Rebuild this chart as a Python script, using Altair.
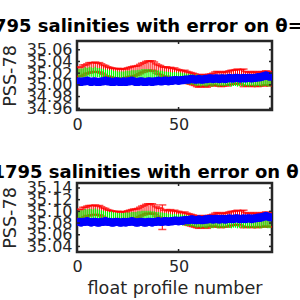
import altair as alt
import pandas as pd

profiles = list(range(1, 96))

# ---- panel 1 (upper theta level) ----
red1 = [35.022,35.023,35.025,35.026,35.028,35.029,35.030,35.030,35.031,35.029,
        35.030,35.028,35.026,35.024,35.023,35.022,35.021,35.020,35.020,35.019,
        35.019,35.018,35.020,35.019,35.021,35.022,35.023,35.023,35.024,35.025,
        35.027,35.029,35.030,35.032,35.033,35.032,35.033,35.031,35.028,35.026,
        35.025,35.023,35.022,35.023,35.021,35.020,35.018,35.019,35.017,35.016,
        35.015,35.014,35.015,35.013,35.012,35.011,35.010,35.009,35.007,35.006,
        35.007,35.008,35.007,35.006,35.008,35.009,35.010,35.010,35.011,35.010,
        35.009,35.010,35.011,35.010,35.012,35.013,35.013,35.014,35.015,35.014,
        35.013,35.012,35.011,35.010,35.010,35.009,35.011,35.010,35.009,35.010,
        35.011,35.010,35.012,35.011,35.010]
red_err1 = [0.008,0.008,0.009,0.008,0.008,0.009,0.008,0.008,0.008,0.008,
            0.008,0.008,0.008,0.009,0.008,0.008,0.008,0.008,0.008,0.009,
            0.008,0.009,0.008,0.008,0.008,0.008,0.008,0.009,0.008,0.008,
            0.008,0.008,0.008,0.008,0.008,0.009,0.008,0.008,0.008,0.008,
            0.008,0.008,0.008,0.008,0.008,0.010,0.010,0.010,0.010,0.010,
            0.010,0.010,0.010,0.010,0.010,0.010,0.010,0.010,0.010,0.010,
            0.010,0.010,0.010,0.010,0.010,0.010,0.010,0.012,0.012,0.012,
            0.012,0.012,0.012,0.012,0.012,0.012,0.012,0.012,0.012,0.012,
            0.013,0.015,0.012,0.012,0.012,0.012,0.012,0.012,0.012,0.012,
            0.012,0.012,0.012,0.012,0.012]
green1 = [35.019,35.020,35.020,35.021,35.021,35.022,35.022,35.021,35.022,35.021,
          35.021,35.020,35.019,35.018,35.018,35.017,35.017,35.016,35.016,35.015,
          35.015,35.015,35.015,35.016,35.016,35.016,35.017,35.017,35.017,35.018,
          35.018,35.018,35.019,35.019,35.019,35.019,35.018,35.018,35.017,35.017,
          35.016,35.016,35.015,35.015,35.014,35.014,35.013,35.013,35.013,35.012,
          35.012,35.011,35.011,35.010,35.010,35.009,35.009,35.008,35.008,35.008,
          35.007,35.008,35.007,35.007,35.008,35.007,35.007,35.008,35.007,35.007,
          35.008,35.007,35.007,35.008,35.008,35.007,35.008,35.008,35.007,35.008,
          35.008,35.007,35.008,35.007,35.007,35.008,35.007,35.007,35.008,35.007,
          35.007,35.008,35.008,35.007,35.007]
green_err1 = [0.008,0.008,0.008,0.009,0.008,0.008,0.008,0.008,0.009,0.008,
              0.008,0.008,0.008,0.008,0.008,0.008,0.009,0.008,0.008,0.008,
              0.008,0.008,0.008,0.008,0.008,0.008,0.008,0.008,0.008,0.008,
              0.008,0.009,0.008,0.008,0.008,0.008,0.008,0.008,0.008,0.008,
              0.008,0.008,0.008,0.008,0.008,0.008,0.008,0.009,0.008,0.009,
              0.009,0.009,0.009,0.009,0.009,0.009,0.009,0.009,0.010,0.009,
              0.010,0.009,0.010,0.010,0.009,0.010,0.010,0.009,0.010,0.010,
              0.010,0.010,0.009,0.010,0.010,0.010,0.010,0.010,0.010,0.010,
              0.010,0.010,0.010,0.010,0.010,0.010,0.010,0.010,0.010,0.010,
              0.010,0.010,0.010,0.010,0.010]
blue1 = [35.006,35.005,35.006,35.006,35.007,35.006,35.005,35.006,35.006,35.005,
         35.005,35.006,35.006,35.007,35.006,35.006,35.005,35.005,35.006,35.006,
         35.005,35.005,35.006,35.005,35.006,35.006,35.007,35.006,35.005,35.005,
         35.006,35.006,35.005,35.005,35.006,35.006,35.005,35.006,35.006,35.007,
         35.006,35.006,35.007,35.007,35.006,35.007,35.007,35.008,35.008,35.007,
         35.008,35.008,35.009,35.009,35.009,35.010,35.010,35.009,35.009,35.010,
         35.009,35.009,35.010,35.010,35.011,35.011,35.010,35.011,35.011,35.010,
         35.011,35.011,35.010,35.011,35.012,35.011,35.011,35.012,35.012,35.011,
         35.011,35.012,35.011,35.012,35.012,35.011,35.012,35.012,35.013,35.013,
         35.014,35.015,35.016,35.015,35.014]

# ---- panel 2 (lower theta level) ----
red2 = [35.095,35.096,35.098,35.099,35.101,35.101,35.102,35.102,35.103,35.101,
        35.102,35.100,35.098,35.096,35.095,35.094,35.093,35.092,35.092,35.091,
        35.091,35.090,35.092,35.091,35.093,35.094,35.095,35.095,35.096,35.097,
        35.099,35.101,35.102,35.104,35.105,35.104,35.105,35.103,35.100,35.098,
        35.097,35.090,35.094,35.095,35.093,35.093,35.091,35.092,35.090,35.090,
        35.088,35.088,35.089,35.087,35.086,35.085,35.084,35.083,35.082,35.081,
        35.082,35.083,35.082,35.081,35.083,35.084,35.085,35.085,35.086,35.085,
        35.084,35.085,35.086,35.085,35.087,35.088,35.088,35.089,35.090,35.089,
        35.088,35.087,35.086,35.085,35.085,35.084,35.086,35.085,35.084,35.085,
        35.086,35.085,35.087,35.086,35.085]
red_err2 = [0.008,0.008,0.009,0.008,0.008,0.009,0.008,0.008,0.008,0.008,
            0.008,0.008,0.008,0.009,0.008,0.008,0.008,0.008,0.008,0.009,
            0.008,0.009,0.008,0.008,0.008,0.008,0.008,0.009,0.008,0.008,
            0.008,0.008,0.008,0.008,0.008,0.009,0.008,0.008,0.008,0.008,
            0.008,0.021,0.008,0.008,0.008,0.010,0.010,0.010,0.010,0.010,
            0.010,0.010,0.010,0.010,0.010,0.010,0.010,0.010,0.010,0.010,
            0.010,0.010,0.010,0.010,0.010,0.010,0.010,0.012,0.012,0.012,
            0.012,0.012,0.012,0.012,0.012,0.012,0.012,0.012,0.012,0.012,
            0.013,0.015,0.012,0.012,0.012,0.012,0.012,0.012,0.012,0.012,
            0.012,0.012,0.012,0.012,0.012]
green2 = [35.093,35.094,35.094,35.095,35.095,35.096,35.096,35.095,35.096,35.095,
          35.095,35.094,35.093,35.092,35.092,35.091,35.091,35.090,35.090,35.089,
          35.089,35.089,35.089,35.090,35.090,35.090,35.091,35.091,35.091,35.092,
          35.092,35.092,35.093,35.093,35.093,35.093,35.092,35.092,35.091,35.091,
          35.090,35.090,35.089,35.089,35.088,35.088,35.087,35.087,35.087,35.086,
          35.086,35.085,35.085,35.084,35.084,35.083,35.083,35.082,35.082,35.082,
          35.081,35.082,35.081,35.081,35.082,35.081,35.081,35.082,35.081,35.081,
          35.082,35.081,35.081,35.082,35.082,35.081,35.082,35.082,35.081,35.082,
          35.082,35.081,35.082,35.081,35.081,35.082,35.081,35.081,35.082,35.081,
          35.081,35.082,35.082,35.081,35.081]
green_err2 = green_err1
blue2 = [35.082,35.081,35.082,35.082,35.083,35.082,35.081,35.082,35.082,35.081,
         35.081,35.082,35.082,35.083,35.082,35.082,35.081,35.081,35.082,35.082,
         35.081,35.081,35.082,35.081,35.082,35.082,35.083,35.082,35.081,35.081,
         35.082,35.082,35.081,35.081,35.082,35.082,35.081,35.082,35.082,35.083,
         35.082,35.082,35.083,35.083,35.082,35.083,35.083,35.084,35.084,35.083,
         35.084,35.084,35.085,35.085,35.085,35.086,35.086,35.085,35.085,35.086,
         35.085,35.085,35.086,35.086,35.087,35.087,35.086,35.087,35.087,35.086,
         35.087,35.087,35.086,35.087,35.088,35.087,35.087,35.088,35.088,35.087,
         35.087,35.088,35.087,35.088,35.088,35.087,35.088,35.088,35.089,35.089,
         35.090,35.091,35.092,35.091,35.090]

x_ticks = [0, 50, 100]
y_ticks1 = [34.96, 34.98, 35.0, 35.02, 35.04, 35.06]
y_ticks2 = [35.04, 35.06, 35.08, 35.1, 35.12, 35.14]
y_dom1 = [34.957, 35.075]
y_dom2 = [35.0305, 35.1485]
x_dom = [0, 96]

title1 = "Float 1901795 salinities with error on θ=2.4536°C"
title2 = "Float 1901795 salinities with error on θ=2.214°C"

W, H = 195, 69
FG = "#262626"
FONT = "DejaVu Sans"


def panel(red, rerr, green, gerr, blue, ydom, yticks, title, title_dx, title_dy, xtitle):
    df = pd.DataFrame({"p": profiles, "r": red, "re": rerr, "g": green,
                       "ge": gerr, "b": blue})
    df["r_lo"] = df["r"] - df["re"]
    df["r_hi"] = df["r"] + df["re"]
    df["g_lo"] = df["g"] - df["ge"]
    df["g_hi"] = df["g"] + df["ge"]

    xs = alt.Scale(domain=x_dom, nice=False, zero=False)
    ys = alt.Scale(domain=ydom, nice=False, zero=False)
    xaxis = alt.Axis(values=x_ticks, grid=False, ticks=False, domain=False,
                     labelFontSize=16, labelFont=FONT, labelColor=FG,
                     labelPadding=6, labelFlush=False, labelOverlap=False,
                     titleFontSize=17.6, titleFont=FONT, titleColor=FG,
                     titleFontWeight="normal", titlePadding=5)
    yaxis = alt.Axis(values=yticks, grid=False, ticks=False, domain=False,
                     labelFontSize=16, labelFont=FONT, labelColor=FG,
                     labelPadding=5, labelFlush=False, labelOverlap=False,
                     titleFontSize=17.6, titleFont=FONT, titleColor=FG,
                     titleFontWeight="normal", titlePadding=7)

    def X(f):
        return alt.X(f, scale=xs, axis=xaxis, title=xtitle)

    def Y(f):
        return alt.Y(f, scale=ys, axis=yaxis, title="PSS-78")

    base = alt.Chart(df)
    red_rule = base.mark_rule(color="#ff0000", strokeWidth=1, clip=True).encode(
        x=X("p:Q"), y=Y("r_lo:Q"), y2="r_hi:Q")
    red_cap_lo = base.mark_tick(color="#ff0000", orient="horizontal", size=8,
                                thickness=1.5, clip=True).encode(
        x=X("p:Q"), y=Y("r_lo:Q"))
    red_cap_hi = base.mark_tick(color="#ff0000", orient="horizontal", size=8,
                                thickness=1.5, clip=True).encode(
        x=X("p:Q"), y=Y("r_hi:Q"))
    green_rule = base.mark_rule(color="#00ff00", strokeWidth=1.2, clip=True).encode(
        x=X("p:Q"), y=Y("g_lo:Q"), y2="g_hi:Q")
    blue_line = base.mark_line(color="#0000ff", strokeWidth=2, clip=True).encode(
        x=X("p:Q"), y=Y("b:Q"))
    blue_pts = base.mark_circle(color="#0000ff", size=70, opacity=1, clip=True).encode(
        x=X("p:Q"), y=Y("b:Q"))

    ytdf = pd.DataFrame({"v": yticks})
    xtdf = pd.DataFrame({"v": x_ticks})
    yt_left = alt.Chart(ytdf).mark_rule(color=FG, strokeWidth=1.5, clip=True).encode(
        y=Y("v:Q"), x=alt.value(0), x2=alt.value(3))
    yt_right = alt.Chart(ytdf).mark_rule(color=FG, strokeWidth=1.5, clip=True).encode(
        y=Y("v:Q"), x=alt.value(W - 3), x2=alt.value(W))
    xt_bot = alt.Chart(xtdf).mark_rule(color=FG, strokeWidth=1.5, clip=True).encode(
        x=X("v:Q"), y=alt.value(H - 3), y2=alt.value(H))
    xt_top = alt.Chart(xtdf).mark_rule(color=FG, strokeWidth=1.5, clip=True).encode(
        x=X("v:Q"), y=alt.value(0), y2=alt.value(3))

    return alt.layer(red_rule, red_cap_lo, red_cap_hi, green_rule, blue_line,
                     blue_pts, yt_left, yt_right, xt_bot, xt_top).properties(
        width=W, height=H,
        title=alt.TitleParams(title, anchor="start", frame="group", dx=title_dx,
                              dy=title_dy, offset=9, baseline="alphabetic",
                              fontSize=18, font=FONT, fontWeight="bold",
                              color="#000000"))


top = panel(red1, red_err1, green1, green_err1, blue1, y_dom1, y_ticks1,
            title1, -191, 18, None)
bottom = panel(red2, red_err2, green2, green_err2, blue2, y_dom2, y_ticks2,
               title2, -180, 25, "float profile number")

chart = alt.vconcat(top, bottom, spacing=73, bounds="flush").properties(
    autosize=alt.AutoSizeParams(type="none"),
    padding={"left": 77, "top": 41, "right": 28, "bottom": 259},
    background="white",
).configure_view(stroke=FG, strokeWidth=2.5)

chart.save("out.html", embed_options={"renderer": "svg", "actions": False})
